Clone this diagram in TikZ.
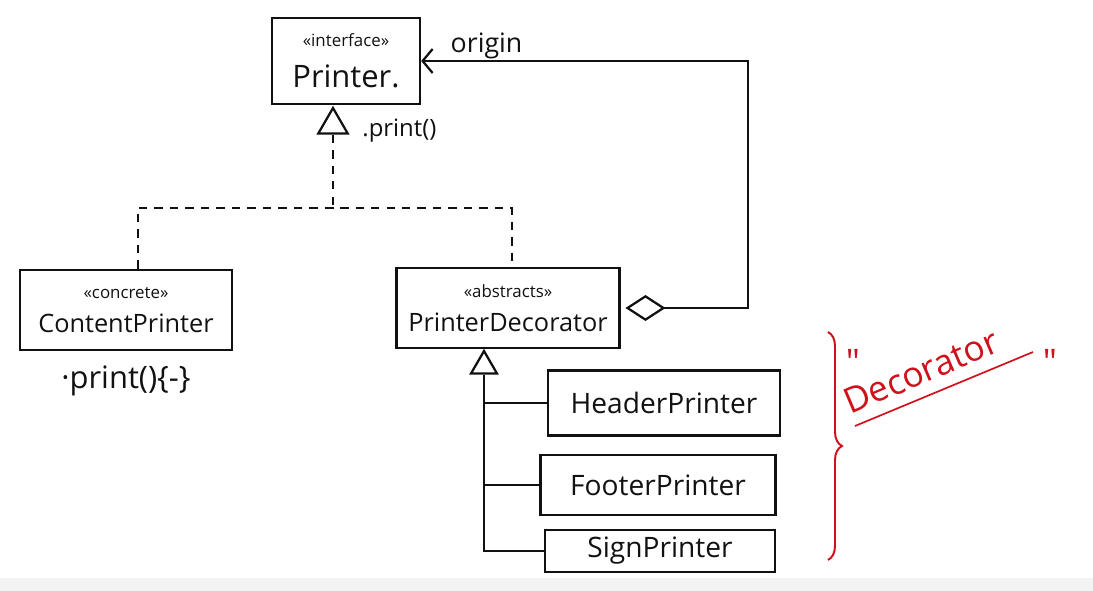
\documentclass[tikz,border=0pt]{standalone}
\usepackage{fontspec}
\setmainfont{Open Sans}
\usetikzlibrary{arrows.meta,positioning,shapes.geometric,calc,decorations.pathreplacing}
\definecolor{ink}{HTML}{111111}
\definecolor{inkred}{HTML}{D0101A}
\definecolor{stripgray}{HTML}{F3F3F3}
\newcommand{\stereo}[1]{{\fontsize{12}{13}\selectfont «#1»}}
\newcommand{\handsize}[1]{\fontsize{#1}{#1}\selectfont}
\tikzset{
  classnode/.style={draw=ink,line width=1.6pt,align=center,inner sep=2pt,text=ink},
  subnode/.style={classnode,font=\handsize{20}},
  inhtri/.style={draw=ink,line width=1.6pt,regular polygon,regular polygon sides=3,inner sep=0pt},
  dashline/.style={draw=ink,line width=1.4pt,dash pattern=on 6pt off 5pt},
  solidline/.style={draw=ink,line width=1.6pt},
  hasline/.style={solidline,{Diamond[open,length=1cm,width=0.65cm]}-{Straight Barb[length=2.5mm,width=6mm]}},
  note/.style={text=ink,inner sep=0pt},
  redtext/.style={text=inkred,inner sep=0pt,font=\handsize{25}}
}

\begin{document}
\begin{tikzpicture}[x=0.025cm,y=-0.025cm]
  \useasboundingbox (0,0) rectangle (1093,591);
  \fill[stripgray] (0,578) rectangle (1093,591);

  % interface on top
  \node[classnode,minimum width=3.7cm,minimum height=2.15cm] (printer) at (346,61)
    {\stereo{interface}\\[12pt]{\handsize{22}Printer.}};
  \node[inhtri,minimum size=0.85cm] (tri1) at (333,125) {};
  \node[note,font=\handsize{17},right=0.45cm of tri1.east,anchor=west,yshift=-4pt] (ifop) {.print()};

  % concrete and abstract classes
  \node[classnode,minimum width=5.3cm,minimum height=2cm] (content) at (126,310)
    {\stereo{concrete}\\[10pt]{\handsize{18}ContentPrinter}};
  \node[note,font=\handsize{22},below=0.35cm of content] (contentop) {·print()\{-\}};
  \node[classnode,minimum width=5.575cm,minimum height=2cm] (deco) at (508,308)
    {\stereo{abstracts}\\[10pt]{\handsize{18}PrinterDecorator}};
  \node[inhtri,minimum size=0.75cm] (tri2) at (484,366) {};

  % concrete decorators
  \node[subnode,minimum width=5.8cm,minimum height=1.625cm] (header) at (664,403) {HeaderPrinter};
  \node[subnode,minimum width=5.875cm,minimum height=1.5cm] (footer) at (658,485) {FooterPrinter};
  \node[subnode,minimum width=5.75cm,minimum height=1.05cm] (sign) at (660,551) {SignPrinter};

  % realization
  \coordinate (jn) at (333,208);
  \draw[dashline] (tri1.south) -- (jn);
  \draw[dashline] ([xshift=0.3cm]content.north) |- (jn) -| ([xshift=0.1cm]deco.north);

  % inheritance of decorators
  \draw[solidline] (tri2.south) |- (sign.west);
  \draw[solidline] (tri2.south |- header.west) -- (header.west);
  \draw[solidline] (tri2.south |- footer.west) -- (footer.west);

  % aggregation back to the interface
  \coordinate (turn) at (748,61);
  \draw[hasline,shorten <=0.12cm] (deco.east) -| (turn) -- (printer.east)
    node[pos=0.8,above=1pt,note,font=\handsize{19}] (origin) {origin};

  % red annotation
  \coordinate (bt) at (828,332);
  \coordinate (bb) at (828,560);
  \draw[inkred,line width=1.4pt,decorate,decoration={brace,amplitude=0.35cm}] (bt) -- (bb);
  \node[redtext,rotate=23,anchor=base west] (deconame) at (850,415) {Decorator};
  \node[redtext] (qopen) at (853,362) {\textquotedbl};
  \node[redtext] (qclose) at (1050,362) {\textquotedbl};
  \coordinate (ulstart) at (855,426);
  \coordinate (ulend) at (1033,352);
  \draw[inkred,line width=1.2pt] (ulstart) -- (ulend);
\end{tikzpicture}
\end{document}
